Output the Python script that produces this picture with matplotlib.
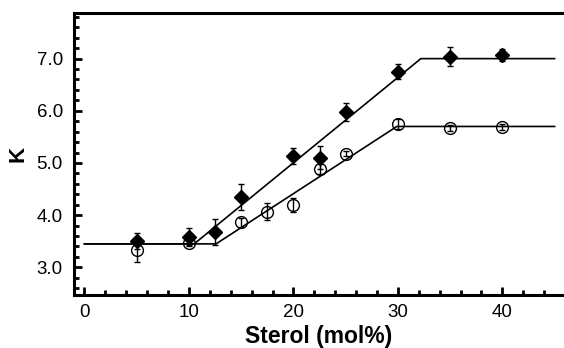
import matplotlib
matplotlib.use("Agg")
import matplotlib.pyplot as plt
from matplotlib.ticker import MultipleLocator

plt.rcParams['font.family'] = ['Liberation Sans', 'DejaVu Sans']

# Filled diamonds
x_d = [5, 10, 12.5, 15, 20, 22.5, 25, 30, 35, 40]
y_d = [3.50, 3.58, 3.68, 4.34, 5.14, 5.10, 5.98, 6.75, 7.04, 7.07]
e_d = [0.15, 0.17, 0.25, 0.25, 0.15, 0.22, 0.17, 0.14, 0.18, 0.12]

# Open circles
x_c = [5, 10, 15, 17.5, 20, 22.5, 25, 30, 35, 40]
y_c = [3.33, 3.47, 3.86, 4.07, 4.19, 4.89, 5.18, 5.75, 5.67, 5.69]
e_c = [0.23, 0.05, 0.08, 0.16, 0.13, 0.10, 0.05, 0.10, 0.05, 0.05]

# Fit lines
fit_d_x = [0, 10.5, 32.2, 45]
fit_d_y = [3.45, 3.45, 7.0, 7.0]
fit_c_x = [0, 12.6, 29.9, 45]
fit_c_y = [3.45, 3.45, 5.7, 5.7]

fig = plt.figure(figsize=(5.64, 3.48), dpi=100)
ax = fig.add_axes([74/564, (348-294.5)/348, 1 - 74/564, (294.5-12.7)/348])

ax.plot(fit_d_x, fit_d_y, color='black', lw=1.2, zorder=2)
ax.plot(fit_c_x, fit_c_y, color='black', lw=1.2, zorder=2)

ax.errorbar(x_c, y_c, yerr=e_c, fmt='o', mfc='none', mec='black', mew=1.0,
            ms=8.5, ecolor='black', elinewidth=1.0, capsize=2.2, capthick=1.0, zorder=3)
ax.errorbar(x_d, y_d, yerr=e_d, fmt='D', mfc='black', mec='black',
            ms=7, ecolor='black', elinewidth=1.0, capsize=2.2, capthick=1.0, zorder=4)

ax.set_xlim(-1, 45.9)
ax.set_ylim(2.48, 7.88)
ax.xaxis.set_major_locator(MultipleLocator(10))
ax.xaxis.set_minor_locator(MultipleLocator(2))
ax.yaxis.set_major_locator(MultipleLocator(1.0))
ax.yaxis.set_minor_locator(MultipleLocator(0.2))
ax.yaxis.set_major_formatter(matplotlib.ticker.FormatStrFormatter('%.1f'))

ax.spines['right'].set_visible(False)
for s in ['left', 'bottom', 'top']:
    ax.spines[s].set_linewidth(2.2)

ax.tick_params(which='both', direction='in', width=2.0, labelsize=13.5, top=False, right=False)
ax.tick_params(axis='x', which='major', length=6, pad=7)
ax.tick_params(axis='y', which='major', length=6, pad=8)
ax.tick_params(which='minor', length=3.5)

ax.set_xlabel('Sterol (mol%)', fontsize=16.5, fontweight='bold', labelpad=3)
ax.set_ylabel('K', fontsize=16, fontweight='bold', labelpad=6)

fig.savefig('out.png', dpi=100)
